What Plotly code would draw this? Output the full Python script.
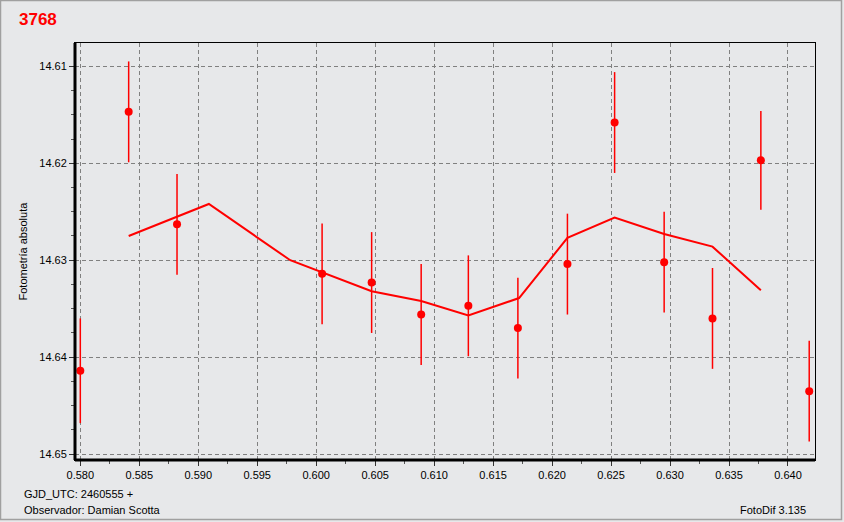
import plotly.graph_objects as go

# ---- data ----
obs_x = [0.5800, 0.5841, 0.5882, 0.6005, 0.6047, 0.6089, 0.6129, 0.6171,
         0.6213, 0.6253, 0.6295, 0.6336, 0.6377, 0.6418]
obs_mag = [14.6414, 14.6147, 14.6263, 14.6314, 14.6323, 14.6356, 14.6347, 14.6370,
           14.6304, 14.6158, 14.6302, 14.6360, 14.6197, 14.6435]
obs_err = [0.0054, 0.0052, 0.0052, 0.0052, 0.0052, 0.0052, 0.0052, 0.0052,
           0.0052, 0.0052, 0.0052, 0.0052, 0.0051, 0.0052]

fit_x = [0.5841, 0.5909, 0.5978, 0.6047, 0.6089, 0.6129, 0.6172, 0.6213,
         0.6253, 0.6295, 0.6336, 0.6377]
fit_mag = [14.6275, 14.6242, 14.6300, 14.6332, 14.6342, 14.6357, 14.6339, 14.6277,
           14.6256, 14.6273, 14.6286, 14.6331]

title_text = "3768"
y_title = "Fotometría absoluta"
footer_left = ["GJD_UTC: 2460555 +", "Observador: Damian Scotta"]
footer_right = "FotoDif 3.135"

# ---- layout constants ----
W, H = 844, 522
ML, MR, MT, MB = 75, 29, 43, 62
PW, PH = W - ML - MR, H - MT - MB
BG = "#e7e8ea"
FONT = "Liberation Sans, Arial, sans-serif"

fig = go.Figure()

fig.add_trace(go.Scatter(
    x=fit_x, y=fit_mag, mode="lines",
    line=dict(color="#ff0000", width=2),
    hoverinfo="skip", showlegend=False,
))

fig.add_trace(go.Scatter(
    x=obs_x, y=obs_mag, mode="markers",
    marker=dict(color="#ff0000", size=8, symbol="circle"),
    error_y=dict(type="data", array=obs_err, color="#ff0000", thickness=1.5, width=0),
    showlegend=False,
))

axis_common = dict(
    showline=True, linecolor="black", linewidth=1, mirror=True,
    showgrid=True, gridcolor="#808080", gridwidth=1, griddash="4px,3px",
    zeroline=False, ticks="outside", tickcolor="#333333", ticklen=5,
    tickfont=dict(family=FONT, size=11, color="black"),
)

fig.update_xaxes(
    range=[0.57955, 0.64229], dtick=0.005, tick0=0.58, tickformat=".3f",
    minor=dict(dtick=0.0025, tick0=0.58, ticks="outside", ticklen=3,
               tickcolor="#555555", showgrid=False),
    **axis_common,
)
fig.update_yaxes(
    range=[14.6506, 14.6076], dtick=0.01, tick0=14.6, tickformat=".2f",
    minor=dict(dtick=0.0025, tick0=14.6, ticks="outside", ticklen=3,
               tickcolor="#555555", showgrid=False),
    **axis_common,
)

def px_x(p):
    return (p - ML) / PW

def px_y(p):
    return (H - MB - p) / PH

shapes = [
    # thick left and bottom axes
    dict(type="line", xref="paper", yref="paper", x0=0, x1=0, y0=0, y1=1,
         line=dict(color="black", width=3), layer="above"),
    dict(type="line", xref="paper", yref="paper", x0=0, x1=1, y0=0, y1=0,
         line=dict(color="black", width=3), layer="above"),
    # outer window frame
    dict(type="rect", xref="paper", yref="paper",
         x0=px_x(0.5), x1=px_x(841.5), y0=px_y(519.5), y1=px_y(0.5),
         line=dict(color="#a0a0a0", width=1.5), layer="below"),
]

annotations = [
    dict(text=f"<b>{title_text}</b>", xref="paper", yref="paper", x=0, y=1,
         xanchor="left", yanchor="middle", xshift=17 - ML, yshift=MT - 19,
         showarrow=False, font=dict(family=FONT, size=17, color="#ff0000")),
    dict(text=y_title, xref="paper", yref="paper", x=0, y=0.5,
         xanchor="center", yanchor="middle", xshift=22 - ML, textangle=-90,
         showarrow=False, font=dict(family=FONT, size=11, color="black")),
    dict(text=footer_left[0], xref="paper", yref="paper", x=0, y=0,
         xanchor="left", yanchor="middle", xshift=22 - ML, yshift=-(494 - (H - MB)),
         showarrow=False, font=dict(family=FONT, size=11, color="black")),
    dict(text=footer_left[1], xref="paper", yref="paper", x=0, y=0,
         xanchor="left", yanchor="middle", xshift=22 - ML, yshift=-(510 - (H - MB)),
         showarrow=False, font=dict(family=FONT, size=11, color="black")),
    dict(text=footer_right, xref="paper", yref="paper", x=1, y=0,
         xanchor="right", yanchor="middle", xshift=808 - (W - MR), yshift=-(510 - (H - MB)),
         showarrow=False, font=dict(family=FONT, size=11, color="black")),
]

fig.update_layout(
    width=W, height=H, autosize=False,
    margin=dict(l=ML, r=MR, t=MT, b=MB, pad=0),
    paper_bgcolor=BG, plot_bgcolor=BG,
    font=dict(family=FONT, size=11, color="black"),
    shapes=shapes, annotations=annotations,
    showlegend=False,
)

fig.write_html(
    "out.html",
    config={"displayModeBar": False},
    post_script="document.body.style.margin='0';document.body.style.overflow='hidden';",
)
